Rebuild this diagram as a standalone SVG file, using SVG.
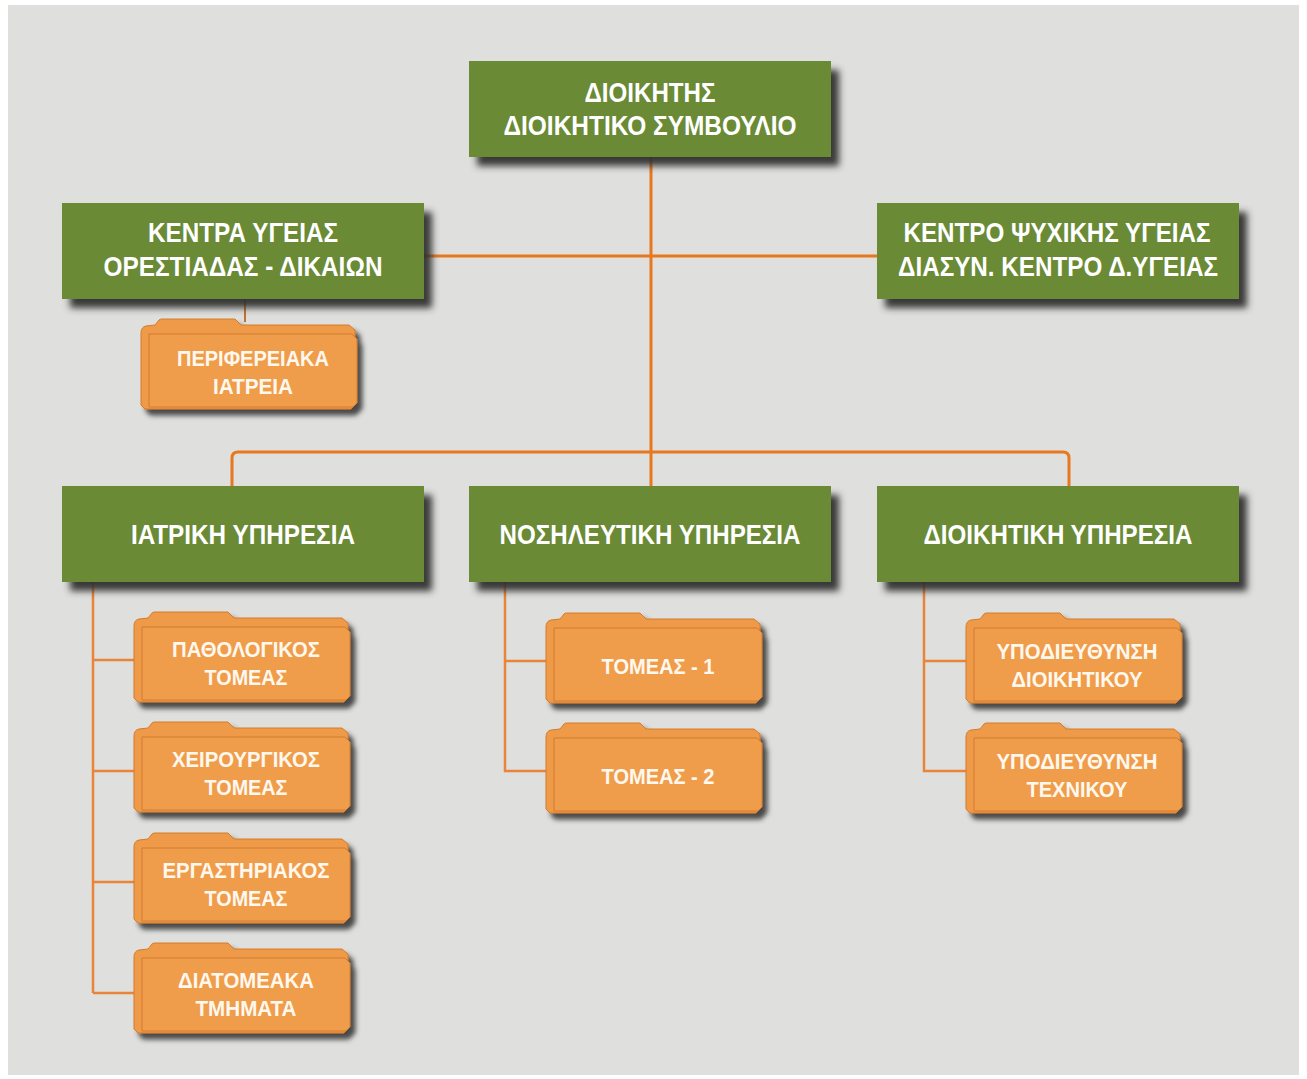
<svg xmlns="http://www.w3.org/2000/svg" xmlns:xlink="http://www.w3.org/1999/xlink" width="1307" height="1079" viewBox="0 0 1307 1079">
<style>
.box{fill:#6b8a34}
.gt{font-family:"Liberation Sans",Arial,sans-serif;font-weight:bold;font-size:28px;fill:#ffffff;text-anchor:middle}
.ft{font-family:"Liberation Sans",Arial,sans-serif;font-weight:bold;font-size:22px;fill:#fff8ee;text-anchor:middle}
.main{fill:none;stroke:#e8781e;stroke-width:3}
.sub{fill:none;stroke:#e8853a;stroke-width:2.5}
.thin{fill:none;stroke:#c4722e;stroke-width:2}
</style>
<defs>
<filter id="sh" x="-10%" y="-20%" width="130%" height="150%">
<feDropShadow dx="8" dy="9" stdDeviation="3.5" flood-color="#2e2e2e" flood-opacity="0.95"/>
</filter>
<filter id="shf" x="-10%" y="-20%" width="130%" height="150%">
<feDropShadow dx="5" dy="6" stdDeviation="2.5" flood-color="#2e2e2e" flood-opacity="0.85"/>
</filter>
<g id="folder">
<path d="M0,14 Q0,8 5,7 L14,6 L18,1 Q19,0 21,0 L94,0 L100,6 L208,6 L214,11 L214,86 L210,90 L4,90 L0,86 Z" fill="#ee9a48" stroke="#d27c2c" stroke-width="1"/>
<path d="M8,15 L211,15 L216,20 L216,84 L212,88 L8,88 Z" fill="#f09d4c" stroke="#d27c2c" stroke-width="1"/>
</g>
</defs>
<rect x="0" y="0" width="1307" height="1079" fill="#ffffff"/>
<rect x="8" y="5" width="1291" height="1070" fill="#dfdfdd"/>

<g id="connectors">
<line class="main" x1="651" y1="157" x2="651" y2="486"/>
<line class="main" x1="424" y1="256" x2="877" y2="256"/>
<path class="main" d="M232,486 L232,458 Q232,452 238,452 L1063,452 Q1069,452 1069,458 L1069,486"/>
<line class="thin" x1="245" y1="299" x2="245" y2="322"/>
<path class="sub" d="M93,582 L93,993 M93,660 L134,660 M93,771 L134,771 M93,882 L134,882 M93,993 L134,993"/>
<path class="sub" d="M505,582 L505,771 L546,771 M505,661 L546,661"/>
<path class="sub" d="M924,582 L924,771 L966,771 M924,661 L966,661"/>
</g>

<g id="n-dioikitis">
<rect class="box" x="469" y="61" width="362" height="96" filter="url(#sh)"/>
<text class="gt" x="650" y="102" textLength="131" lengthAdjust="spacingAndGlyphs">ΔΙΟΙΚΗΤΗΣ</text>
<text class="gt" x="650" y="135" textLength="293" lengthAdjust="spacingAndGlyphs">ΔΙΟΙΚΗΤΙΚΟ ΣΥΜΒΟΥΛΙΟ</text>
</g>
<g id="n-kentra">
<rect class="box" x="62" y="203" width="362" height="96" filter="url(#sh)"/>
<text class="gt" x="243" y="242" textLength="190" lengthAdjust="spacingAndGlyphs">ΚΕΝΤΡΑ ΥΓΕΙΑΣ</text>
<text class="gt" x="243" y="276" textLength="279" lengthAdjust="spacingAndGlyphs">ΟΡΕΣΤΙΑΔΑΣ - ΔΙΚΑΙΩΝ</text>
</g>
<g id="n-psyxikis">
<rect class="box" x="877" y="203" width="362" height="96" filter="url(#sh)"/>
<text class="gt" x="1057" y="242" textLength="307" lengthAdjust="spacingAndGlyphs">ΚΕΝΤΡΟ ΨΥΧΙΚΗΣ ΥΓΕΙΑΣ</text>
<text class="gt" x="1058" y="276" textLength="320" lengthAdjust="spacingAndGlyphs">ΔΙΑΣΥΝ. ΚΕΝΤΡΟ Δ.ΥΓΕΙΑΣ</text>
</g>
<g id="n-iatriki">
<rect class="box" x="62" y="486" width="362" height="96" filter="url(#sh)"/>
<text class="gt" x="243" y="544" textLength="224" lengthAdjust="spacingAndGlyphs">ΙΑΤΡΙΚΗ ΥΠΗΡΕΣΙΑ</text>
</g>
<g id="n-nosileftiki">
<rect class="box" x="469" y="486" width="362" height="96" filter="url(#sh)"/>
<text class="gt" x="650" y="544" textLength="301" lengthAdjust="spacingAndGlyphs">ΝΟΣΗΛΕΥΤΙΚΗ ΥΠΗΡΕΣΙΑ</text>
</g>
<g id="n-dioikitiki">
<rect class="box" x="877" y="486" width="362" height="96" filter="url(#sh)"/>
<text class="gt" x="1058" y="544" textLength="269" lengthAdjust="spacingAndGlyphs">ΔΙΟΙΚΗΤΙΚΗ ΥΠΗΡΕΣΙΑ</text>
</g>

<g id="n-periferiaka">
<use xlink:href="#folder" x="141" y="319" filter="url(#shf)"/>
<text class="ft" x="253" y="366" textLength="152" lengthAdjust="spacingAndGlyphs">ΠΕΡΙΦΕΡΕΙΑΚΑ</text>
<text class="ft" x="253" y="394" textLength="80" lengthAdjust="spacingAndGlyphs">ΙΑΤΡΕΙΑ</text>
</g>
<g id="n-pathologikos">
<use xlink:href="#folder" x="134" y="612" filter="url(#shf)"/>
<text class="ft" x="246" y="657" textLength="148" lengthAdjust="spacingAndGlyphs">ΠΑΘΟΛΟΓΙΚΟΣ</text>
<text class="ft" x="246" y="685" textLength="83" lengthAdjust="spacingAndGlyphs">ΤΟΜΕΑΣ</text>
</g>
<g id="n-xeirourgikos">
<use xlink:href="#folder" x="134" y="722" filter="url(#shf)"/>
<text class="ft" x="246" y="767" textLength="148" lengthAdjust="spacingAndGlyphs">ΧΕΙΡΟΥΡΓΙΚΟΣ</text>
<text class="ft" x="246" y="795" textLength="83" lengthAdjust="spacingAndGlyphs">ΤΟΜΕΑΣ</text>
</g>
<g id="n-ergastiriakos">
<use xlink:href="#folder" x="134" y="833" filter="url(#shf)"/>
<text class="ft" x="246" y="878" textLength="167" lengthAdjust="spacingAndGlyphs">ΕΡΓΑΣΤΗΡΙΑΚΟΣ</text>
<text class="ft" x="246" y="906" textLength="83" lengthAdjust="spacingAndGlyphs">ΤΟΜΕΑΣ</text>
</g>
<g id="n-diatomeaka">
<use xlink:href="#folder" x="134" y="943" filter="url(#shf)"/>
<text class="ft" x="246" y="988" textLength="136" lengthAdjust="spacingAndGlyphs">ΔΙΑΤΟΜΕΑΚΑ</text>
<text class="ft" x="246" y="1016" textLength="101" lengthAdjust="spacingAndGlyphs">ΤΜΗΜΑΤΑ</text>
</g>
<g id="n-tomeas1">
<use xlink:href="#folder" x="546" y="613" filter="url(#shf)"/>
<text class="ft" x="658" y="674" textLength="113" lengthAdjust="spacingAndGlyphs">ΤΟΜΕΑΣ - 1</text>
</g>
<g id="n-tomeas2">
<use xlink:href="#folder" x="546" y="723" filter="url(#shf)"/>
<text class="ft" x="658" y="784" textLength="113" lengthAdjust="spacingAndGlyphs">ΤΟΜΕΑΣ - 2</text>
</g>
<g id="n-ypodieythynsi-dioikitikou">
<use xlink:href="#folder" x="966" y="613" filter="url(#shf)"/>
<text class="ft" x="1077" y="659" textLength="161" lengthAdjust="spacingAndGlyphs">ΥΠΟΔΙΕΥΘΥΝΣΗ</text>
<text class="ft" x="1077" y="687" textLength="131" lengthAdjust="spacingAndGlyphs">ΔΙΟΙΚΗΤΙΚΟΥ</text>
</g>
<g id="n-ypodieythynsi-texnikou">
<use xlink:href="#folder" x="966" y="723" filter="url(#shf)"/>
<text class="ft" x="1077" y="769" textLength="161" lengthAdjust="spacingAndGlyphs">ΥΠΟΔΙΕΥΘΥΝΣΗ</text>
<text class="ft" x="1077" y="797" textLength="101" lengthAdjust="spacingAndGlyphs">ΤΕΧΝΙΚΟΥ</text>
</g>
</svg>
